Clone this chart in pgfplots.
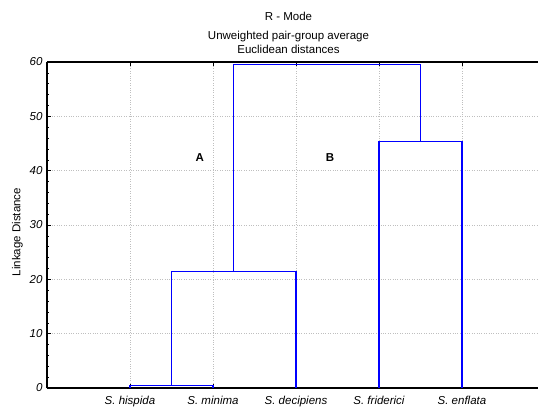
\documentclass[border=0pt]{standalone}
\usepackage{fontspec}
\setmainfont{Liberation Sans}
\usepackage{pgfplots}
\pgfplotsset{compat=1.18}
\begin{document}
\begin{tikzpicture}
\begin{axis}[
  at={(0,0)}, anchor=south west,
  scale only axis, width=491pt, height=326pt,
  xmin=0, xmax=5.916, ymin=0, ymax=60,
  axis x line*=box, axis y line*=left,
  axis line style={black, line width=1.1pt},
  xtick={1,2,3,4,5},
  xticklabels={S. hispida, S. minima, S. decipiens, S. friderici, S. enflata},
  ytick={0,10,20,30,40,50,60},
  minor y tick num=4,
  tick align=inside,
  major tick length=4pt, minor tick length=2.5pt,
  tick style={black, line width=0.6pt},
  grid=major,
  major grid style={gray!50, dotted, line width=0.6pt},
  /pgf/number format/assume math mode=true,
  ticklabel style={font=\itshape\fontsize{11.5}{13}\selectfont},
  yticklabel style={xshift=-1pt},
  xticklabel style={yshift=-5pt},
  ylabel={Linkage Distance},
  ylabel style={font=\fontsize{11.5}{13}\selectfont, xshift=-7pt},
  ylabel shift=0pt,
  title={R - Mode\\[5pt] Unweighted pair-group average\\ Euclidean distances},
  title style={font=\fontsize{11.5}{14}\selectfont, align=center, yshift=-1pt, xshift=-4pt},
  clip=false,
]
% merge 1: S. hispida + S. minima at 0.4
\addplot[blue, mark=none, line width=1.2pt] coordinates {(1,0) (1,0.4) (2,0.4) (2,0)};
% merge 2: + S. decipiens at 21.4
\addplot[blue, mark=none, line width=1.2pt] coordinates {(1.5,0.4) (1.5,21.4) (3,21.4) (3,0)};
% merge 3: S. friderici + S. enflata at 45.3
\addplot[blue, mark=none, line width=1.2pt] coordinates {(4,0) (4,45.3) (5,45.3) (5,0)};
% merge 4: at 59.5
\addplot[blue, mark=none, line width=1.2pt] coordinates {(2.25,21.4) (2.25,59.5) (4.5,59.5) (4.5,45.3)};
\node[font=\bfseries\fontsize{11.5}{13}\selectfont] at (axis cs:1.84,42.4) {A};
\node[font=\bfseries\fontsize{11.5}{13}\selectfont] at (axis cs:3.41,42.4) {B};
\end{axis}
\pgfresetboundingbox
\useasboundingbox (-47pt,-19pt) rectangle (491pt,388pt);
\end{tikzpicture}
\end{document}
